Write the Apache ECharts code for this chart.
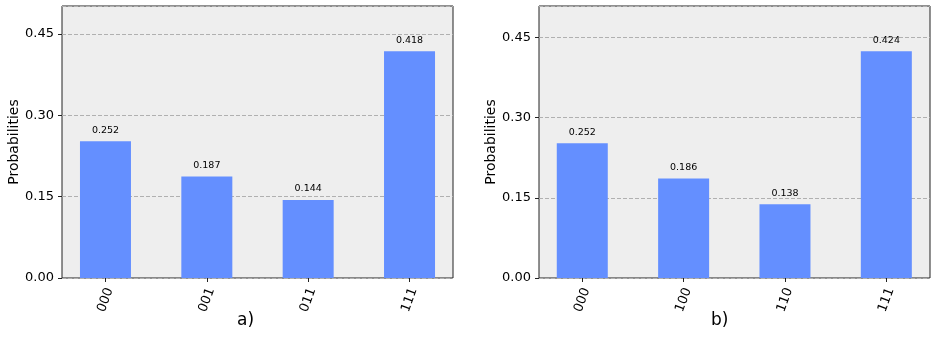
<!DOCTYPE html>
<html>
<head>
<meta charset="utf-8">
<script src="https://cdn.jsdelivr.net/npm/echarts@6/dist/echarts.min.js"></script>
<style>
html, body { margin: 0; padding: 0; background: #fff; }
#chart { width: 945px; height: 342px; }
</style>
</head>
<body>
<div id="chart"></div>
<script>
// measured outcome probabilities
let catsA = ['000', '001', '011', '111'];
let valsA = [0.252, 0.187, 0.144, 0.418];
let catsB = ['000', '100', '110', '111'];
let valsB = [0.252, 0.186, 0.138, 0.424];
let captions = ['a)', 'b)'];

let font = 'DejaVu Sans';
let myChart = echarts.init(document.getElementById('chart'));

// frame grids (box + y axis) and data grids (bars, category x axis)
let frames = [{ left: 62, top: 6, width: 391, height: 272 }, { left: 539, top: 6, width: 391, height: 272 }];
let dataGrids = [{ left: 54.8, top: 6, width: 405.4, height: 272 }, { left: 531.6, top: 6, width: 405.4, height: 272 }];
let cats = [catsA, catsB];
let vals = [valsA, valsB];

let grid = [], xAxis = [], yAxis = [], series = [];
frames.forEach((f, i) => {
    let ymax = Math.max.apply(null, vals[i]) * 1.2;
    grid.push(Object.assign({ show: true, backgroundColor: '#eeeeee', borderColor: '#222', borderWidth: 1 }, f));
    xAxis.push({ gridIndex: i * 2, type: 'value', show: false, min: 0, max: 1 });
    yAxis.push({
        gridIndex: i * 2, type: 'value', min: 0, max: ymax, interval: 0.15,
        name: 'Probabilities', nameLocation: 'middle', nameGap: 41,
        nameTextStyle: { fontFamily: font, fontSize: 14, color: '#000' },
        axisLine: { show: false },
        axisTick: { show: true, length: 4, lineStyle: { color: '#222' } },
        axisLabel: {
            fontFamily: font, fontSize: 13, color: '#000', margin: 8, showMaxLabel: false,
            formatter: v => v.toFixed(2)
        },
        splitLine: { show: true, lineStyle: { color: '#b0b0b0', type: [4, 2], width: 1 } }
    });

    grid.push(dataGrids[i]);
    xAxis.push({
        gridIndex: i * 2 + 1, type: 'category', data: cats[i],
        axisLine: { show: false },
        axisTick: { show: true, alignWithLabel: true, length: 4, lineStyle: { color: '#222' } },
        axisLabel: {
            rotate: 70, align: 'center', verticalAlign: 'middle',
            fontFamily: font, fontSize: 13, color: '#000', margin: 22
        }
    });
    yAxis.push({ gridIndex: i * 2 + 1, type: 'value', min: 0, max: ymax, show: false });
    series.push({
        type: 'bar', xAxisIndex: i * 2 + 1, yAxisIndex: i * 2 + 1,
        data: vals[i], barWidth: 51,
        itemStyle: { color: '#648fff' },
        label: {
            show: true, position: 'top', distance: 6,
            fontFamily: font, fontSize: 9.5, color: '#000',
            formatter: p => p.value.toFixed(3)
        }
    });
});

let option = {
    animation: false,
    backgroundColor: '#fff',
    grid: grid,
    xAxis: xAxis,
    yAxis: yAxis,
    series: series,
    graphic: [
        { type: 'text', left: 237, top: 312, style: { text: captions[0], fontFamily: font, fontSize: 17, fill: '#000' } },
        { type: 'text', left: 711, top: 312, style: { text: captions[1], fontFamily: font, fontSize: 17, fill: '#000' } }
    ]
};
myChart.setOption(option);
</script>
</body>
</html>
